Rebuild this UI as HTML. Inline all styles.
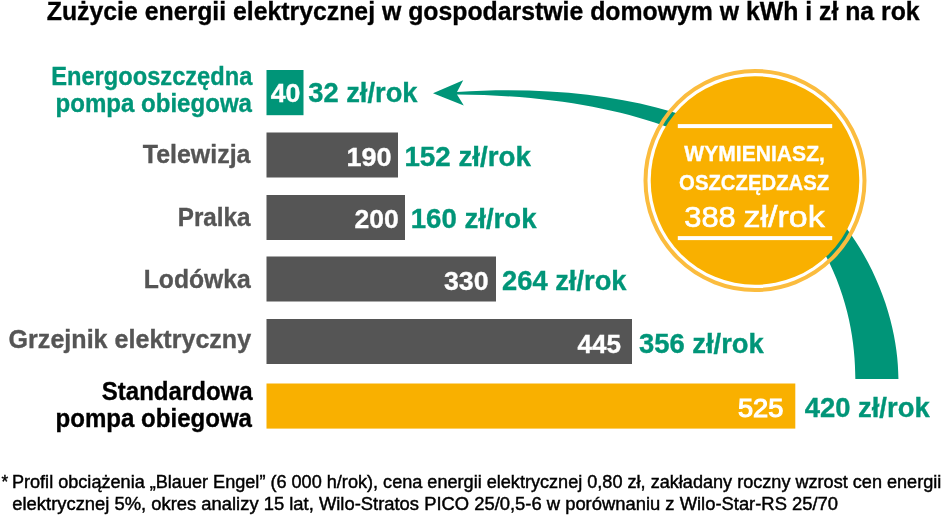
<!DOCTYPE html><html><head><meta charset="utf-8"><style>html,body{margin:0;padding:0;background:#fff;width:948px;height:517px;overflow:hidden}svg{display:block;will-change:transform}text{font-family:"Liberation Sans",Arial,sans-serif}</style></head><body>
<svg width="948" height="517" viewBox="0 0 948 517">
<path d="M433,93.3 L463.2,80.3 L457,91.96 C807.68,70.46 898.43,270.43 898.43,379 L855.36,379 C855.36,280.71 803.38,97.28 457,94.47 L463.8,105.4 Z" fill="#009578"/>
<rect x="266.5" y="70" width="37.0" height="45.2" fill="#009578"/>
<rect x="266.5" y="132.5" width="131.5" height="45.0" fill="#555555"/>
<rect x="266.5" y="195" width="138.5" height="45.0" fill="#555555"/>
<rect x="266.5" y="256.5" width="229.5" height="45.0" fill="#555555"/>
<rect x="266.5" y="319" width="365.5" height="45.0" fill="#555555"/>
<rect x="266.5" y="383.5" width="528.8" height="45.1" fill="#F9B000"/>
<circle cx="755" cy="180.5" r="109.5" fill="none" stroke="#FBBC3E" stroke-width="4"/>
<circle cx="755" cy="180.5" r="104.3" fill="#F9B000"/>
<rect x="677.8" y="124.1" width="154.4" height="4" fill="#fff"/>
<rect x="677.8" y="236.1" width="154.4" height="4" fill="#fff"/>
<text x="46.80" y="20.0" font-size="26.2" font-weight="700" fill="#000" textLength="872.87" lengthAdjust="spacingAndGlyphs" stroke="#000" stroke-width="0.35">Zużycie energii elektrycznej w gospodarstwie domowym w kWh i zł na rok</text>
<text x="51.26" y="84.7" font-size="25.8" font-weight="700" fill="#009578" textLength="201.06" lengthAdjust="spacingAndGlyphs" stroke="#009578" stroke-width="0.35">Energooszczędna</text>
<text x="55.51" y="111.7" font-size="25.8" font-weight="700" fill="#009578" textLength="196.48" lengthAdjust="spacingAndGlyphs" stroke="#009578" stroke-width="0.35">pompa obiegowa</text>
<text x="142.81" y="163.1" font-size="25.8" font-weight="700" fill="#555555" textLength="107.68" lengthAdjust="spacingAndGlyphs" stroke="#555555" stroke-width="0.35">Telewizja</text>
<text x="177.76" y="226.1" font-size="25.8" font-weight="700" fill="#555555" textLength="72.74" lengthAdjust="spacingAndGlyphs" stroke="#555555" stroke-width="0.35">Pralka</text>
<text x="143.76" y="287.9" font-size="25.8" font-weight="700" fill="#555555" textLength="106.97" lengthAdjust="spacingAndGlyphs" stroke="#555555" stroke-width="0.35">Lodówka</text>
<text x="8.62" y="348.3" font-size="25.8" font-weight="700" fill="#555555" textLength="242.53" lengthAdjust="spacingAndGlyphs" stroke="#555555" stroke-width="0.35">Grzejnik elektryczny</text>
<text x="101.79" y="400.0" font-size="25.8" font-weight="700" fill="#000" textLength="150.87" lengthAdjust="spacingAndGlyphs" stroke="#000" stroke-width="0.35">Standardowa</text>
<text x="55.60" y="426.6" font-size="25.8" font-weight="700" fill="#000" textLength="196.39" lengthAdjust="spacingAndGlyphs" stroke="#000" stroke-width="0.35">pompa obiegowa</text>
<text x="270.65" y="101.8" font-size="26.3" font-weight="700" fill="#fff" textLength="29.74" lengthAdjust="spacingAndGlyphs" stroke="#fff" stroke-width="0.35">40</text>
<text x="346.41" y="165.5" font-size="26.3" font-weight="700" fill="#fff" textLength="45.14" lengthAdjust="spacingAndGlyphs" stroke="#fff" stroke-width="0.35">190</text>
<text x="354.45" y="228.0" font-size="26.3" font-weight="700" fill="#fff" textLength="44.27" lengthAdjust="spacingAndGlyphs" stroke="#fff" stroke-width="0.35">200</text>
<text x="443.96" y="290.1" font-size="26.3" font-weight="700" fill="#fff" textLength="44.59" lengthAdjust="spacingAndGlyphs" stroke="#fff" stroke-width="0.35">330</text>
<text x="577.48" y="353.1" font-size="26.3" font-weight="700" fill="#fff" textLength="43.55" lengthAdjust="spacingAndGlyphs" stroke="#fff" stroke-width="0.35">445</text>
<text x="737.95" y="417.0" font-size="25.3" font-weight="400" fill="#fff" textLength="45.44" lengthAdjust="spacingAndGlyphs" stroke="#fff" stroke-width="1.1">525</text>
<text x="308.30" y="101.75" font-size="27.0" font-weight="700" fill="#009578" textLength="109.20" lengthAdjust="spacingAndGlyphs" stroke="#009578" stroke-width="0.35">32 zł/rok</text>
<text x="404.41" y="166.0" font-size="27.0" font-weight="700" fill="#009578" textLength="126.43" lengthAdjust="spacingAndGlyphs" stroke="#009578" stroke-width="0.35">152 zł/rok</text>
<text x="410.75" y="227.8" font-size="27.0" font-weight="700" fill="#009578" textLength="125.75" lengthAdjust="spacingAndGlyphs" stroke="#009578" stroke-width="0.35">160 zł/rok</text>
<text x="502.12" y="289.8" font-size="27.0" font-weight="700" fill="#009578" textLength="124.38" lengthAdjust="spacingAndGlyphs" stroke="#009578" stroke-width="0.35">264 zł/rok</text>
<text x="638.97" y="352.5" font-size="27.0" font-weight="700" fill="#009578" textLength="124.87" lengthAdjust="spacingAndGlyphs" stroke="#009578" stroke-width="0.35">356 zł/rok</text>
<text x="804.65" y="416.6" font-size="27.0" font-weight="700" fill="#009578" textLength="125.02" lengthAdjust="spacingAndGlyphs" stroke="#009578" stroke-width="0.35">420 zł/rok</text>
<text x="684.33" y="161.2" font-size="22.5" font-weight="700" fill="#fff" textLength="140.57" lengthAdjust="spacingAndGlyphs" stroke="#fff" stroke-width="0.35">WYMIENIASZ,</text>
<text x="679.12" y="190.3" font-size="22.5" font-weight="700" fill="#fff" textLength="150.08" lengthAdjust="spacingAndGlyphs" stroke="#fff" stroke-width="0.35">OSZCZĘDZASZ</text>
<text x="684.28" y="226.5" font-size="29.0" font-weight="400" fill="#fff" textLength="51.53" lengthAdjust="spacingAndGlyphs" stroke="#fff" stroke-width="0.6">388</text>
<text x="743.60" y="226.5" font-size="29.0" font-weight="400" fill="#fff" textLength="81.17" lengthAdjust="spacingAndGlyphs" stroke="#fff" stroke-width="0.6">zł/rok</text>
<text x="1.55" y="487.8" font-size="18.3" font-weight="400" fill="#000" textLength="6.70" lengthAdjust="spacingAndGlyphs" stroke="#000" stroke-width="0.45">*</text>
<text x="11.95" y="487.8" font-size="18.3" font-weight="400" fill="#000" textLength="929.37" lengthAdjust="spacingAndGlyphs" stroke="#000" stroke-width="0.45">Profil obciążenia „Blauer Engel” (6 000 h/rok), cena energii elektrycznej 0,80 zł, zakładany roczny wzrost cen energii</text>
<text x="12.30" y="510.2" font-size="18.3" font-weight="400" fill="#000" textLength="825.73" lengthAdjust="spacingAndGlyphs" stroke="#000" stroke-width="0.45">elektrycznej 5%, okres analizy 15 lat, Wilo-Stratos PICO 25/0,5-6 w porównaniu z Wilo-Star-RS 25/70</text>
</svg></body></html>
